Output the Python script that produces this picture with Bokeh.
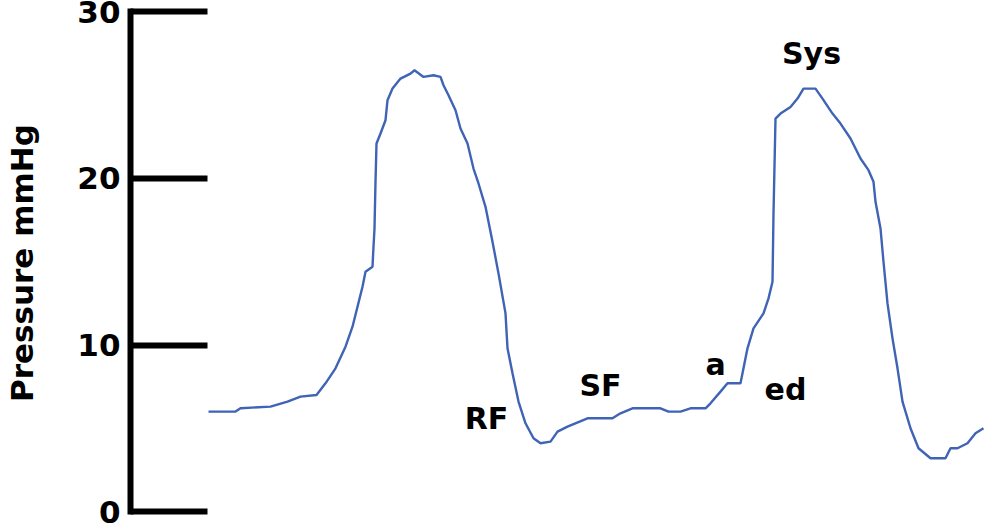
from bokeh.plotting import figure
from bokeh.models import Range1d, FixedTicker, ColumnDataSource
from bokeh.core.properties import value
from bokeh.embed import file_html
from bokeh.resources import INLINE

# time samples (arbitrary units) and pressure (mmHg)
t = [0, 27, 32, 62, 79, 92, 108, 117, 127, 137, 144, 149, 154, 157, 164, 165, 166, 167, 168,
     172, 177, 179, 184, 192, 202, 206, 215, 225, 232, 235, 240, 247, 252, 259, 265, 270, 277,
     284, 290, 297, 299, 304, 310, 317, 325, 332, 342, 349, 359, 379, 404, 412, 424, 452, 460,
     472, 482, 497, 502, 512, 519, 532, 535, 539, 545, 555, 560, 564, 565, 567, 572, 582, 589,
     595, 607, 614, 624, 632, 642, 652, 660, 665, 667, 672, 675, 679, 684, 689, 694, 702, 710,
     722, 737, 742, 749, 759, 767, 775]
pressure = [6.0, 6.0, 6.2, 6.3, 6.6, 6.9, 7.0, 7.7, 8.6, 9.9, 11.1, 12.3, 13.5, 14.4, 14.7,
            15.9, 17.0, 19.8, 22.1, 22.7, 23.5, 24.7, 25.4, 26.0, 26.3, 26.5, 26.1, 26.2, 26.1,
            25.6, 25.0, 24.1, 23.0, 22.1, 20.6, 19.7, 18.3, 16.2, 14.3, 11.9, 9.8, 8.3, 6.6,
            5.3, 4.4, 4.1, 4.2, 4.8, 5.1, 5.6, 5.6, 5.9, 6.2, 6.2, 6.0, 6.0, 6.2, 6.2, 6.5, 7.2,
            7.7, 7.7, 8.6, 9.8, 11.0, 11.9, 12.8, 13.8, 17.9, 23.6, 23.9, 24.3, 24.8, 25.4, 25.4,
            24.8, 23.9, 23.3, 22.4, 21.2, 20.5, 19.8, 18.6, 17.0, 15.0, 12.5, 10.4, 8.6, 6.6,
            5.0, 3.8, 3.2, 3.2, 3.8, 3.8, 4.1, 4.7, 5.0]

y_ticks = [0, 10, 20, 30]

label_text = ["RF", "SF", "a", "ed", "Sys"]
label_t = [278, 392, 507, 577, 603]
label_p = [5.6, 7.55, 8.85, 7.35, 27.5]

FONT = "DejaVu Sans"

p = figure(width=988, height=525, output_backend="svg", toolbar_location=None,
           x_range=Range1d(-78, 780), y_range=Range1d(-0.84, 30.69),
           x_axis_location=None, min_border_left=130, min_border_right=0,
           min_border_top=0, min_border_bottom=0)
p.outline_line_color = None
p.xgrid.visible = False
p.ygrid.visible = False
p.background_fill_color = "white"
p.border_fill_color = "white"

ax = p.yaxis[0]
ax.ticker = FixedTicker(ticks=y_ticks)
ax.bounds = (-0.2, 30.2)
ax.axis_line_width = 6
ax.axis_line_color = "black"
ax.major_tick_line_width = 6
ax.major_tick_line_color = "black"
ax.major_tick_in = 77
ax.major_tick_out = 0
ax.minor_tick_line_color = None
ax.major_label_standoff = 10
ax.major_label_text_font = FONT
ax.major_label_text_font_style = "bold"
ax.major_label_text_font_size = "31px"
ax.major_label_text_color = "black"
ax.axis_label = "Pressure mmHg"
ax.axis_label_text_font = FONT
ax.axis_label_text_font_style = "bold"
ax.axis_label_text_font_size = "31px"
ax.axis_label_text_color = "black"
ax.axis_label_standoff = 34

p.line(t, pressure, line_color="#3f63b5", line_width=2.4)

src = ColumnDataSource(dict(x=label_t, y=label_p, text=label_text))
p.text(x="x", y="y", text="text", source=src, text_font=value(FONT),
       text_font_style="bold", text_font_size="30px", text_color="black",
       text_align="center", text_baseline="alphabetic")

open("out.html", "w").write(file_html(p, INLINE))
